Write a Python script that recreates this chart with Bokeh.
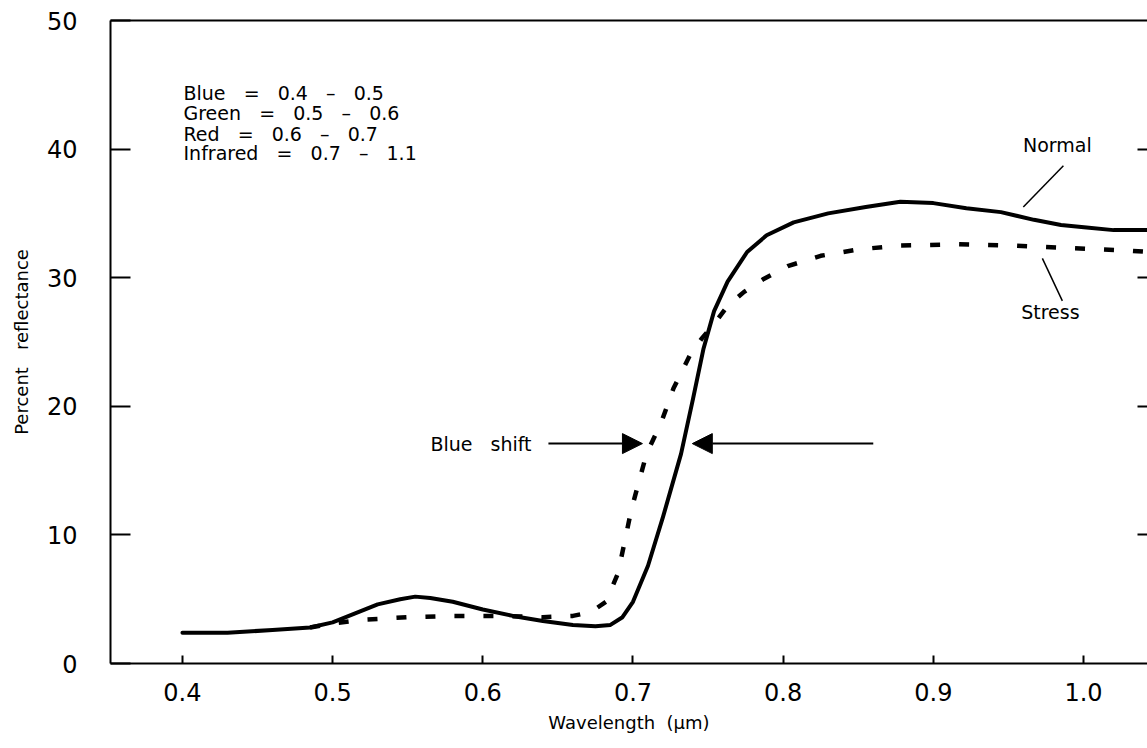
from bokeh.plotting import figure
from bokeh.models import (Range1d, FixedTicker, LinearAxis, CustomJSTickFormatter,
                          Arrow, NormalHead, Label)
from bokeh.core.properties import value
from bokeh.embed import file_html
from bokeh.resources import INLINE

FONT = "DejaVu Sans"
S = "\u00a0"  # non-breaking space (SVG collapses plain runs of spaces)

# ---- data ----
normal_x = [0.400, 0.430, 0.460, 0.485, 0.500, 0.515, 0.530, 0.545, 0.555, 0.565,
            0.580, 0.600, 0.620, 0.640, 0.660, 0.675, 0.685, 0.693, 0.700, 0.710,
            0.720, 0.732, 0.740, 0.747, 0.754, 0.763, 0.776, 0.789, 0.807, 0.830,
            0.855, 0.878, 0.900, 0.922, 0.945, 0.967, 0.985, 1.002, 1.020, 1.043]
normal_y = [2.4, 2.4, 2.6, 2.8, 3.2, 3.9, 4.6, 5.0, 5.2, 5.1,
            4.8, 4.2, 3.7, 3.3, 3.0, 2.9, 3.0, 3.6, 4.8, 7.6,
            11.4, 16.3, 20.6, 24.5, 27.4, 29.7, 32.0, 33.3, 34.3, 35.0,
            35.5, 35.9, 35.8, 35.4, 35.1, 34.5, 34.1, 33.9, 33.7, 33.7]

stress_x = [0.485, 0.500, 0.520, 0.550, 0.580, 0.610, 0.640, 0.660, 0.672, 0.682,
            0.690, 0.699, 0.709, 0.719, 0.727, 0.738, 0.746, 0.754, 0.763, 0.774,
            0.787, 0.803, 0.825, 0.850, 0.878, 0.916, 0.953, 0.993, 1.031, 1.043]
stress_y = [2.8, 3.1, 3.4, 3.6, 3.7, 3.7, 3.6, 3.7, 4.0, 4.8,
            7.0, 12.0, 16.3, 18.8, 21.4, 24.0, 25.3, 26.4, 27.8, 28.9,
            29.9, 30.9, 31.7, 32.2, 32.5, 32.6, 32.5, 32.3, 32.1, 32.0]

x_ticks = [0.4, 0.5, 0.6, 0.7, 0.8, 0.9, 1.0]
y_ticks = [0, 10, 20, 30, 40, 50]
right_ticks = [10, 20, 30, 40]

legend_lines = ["Blue", "Green", "Red", "Infrared"]
legend_ranges = ["0.4 – 0.5", "0.5 – 0.6", "0.6 – 0.7", "0.7 – 1.1"]
legend_x = 0.4007
legend_y = [44.4, 42.8, 41.2, 39.7]

# annotation anchors (data units)
normal_label = (0.9826, 40.3)
normal_leader = ([0.9866, 0.9599], [38.7, 35.5])
stress_label = (0.9779, 27.3)
stress_leader = ([0.9726, 0.9859], [31.5, 28.2])
shift_label = (0.5651, 17.1)
shift_arrow_left = (0.6437, 0.7063)
shift_arrow_right = (0.8600, 0.7395)


def spaced(s, n=3):
    return s.replace(" ", S * n)


legend_text = [name + S * 3 + "=" + S * 3 + spaced(rng) for name, rng in zip(legend_lines, legend_ranges)]

p = figure(width=1147, height=748,
           x_range=Range1d(0.3521, 1.0426), y_range=Range1d(0, 50),
           output_backend="svg", toolbar_location=None,
           min_border_left=110, min_border_top=20,
           min_border_right=0, min_border_bottom=85)
p.grid.visible = False
p.outline_line_color = None
p.background_fill_color = "white"
p.border_fill_color = "white"

# x axis
xa = p.xaxis[0]
xa.ticker = FixedTicker(ticks=x_ticks)
xa.formatter = CustomJSTickFormatter(code="return tick.toFixed(1);")
xa.major_tick_in = 8
xa.major_tick_out = 0
xa.minor_tick_line_color = None
xa.axis_line_width = 2
xa.major_tick_line_width = 2
xa.major_label_standoff = 19
xa.major_label_text_font = FONT
xa.major_label_text_font_size = "24px"
xa.major_label_text_color = "black"
xa.axis_label = "Wavelength" + S * 2 + "(μm)"
xa.axis_label_text_font = FONT
xa.axis_label_text_font_size = "18px"
xa.axis_label_text_font_style = "normal"
xa.axis_label_text_color = "black"
xa.axis_label_standoff = 8

# y axis
ya = p.yaxis[0]
ya.ticker = FixedTicker(ticks=y_ticks)
ya.major_tick_in = 20
ya.major_tick_out = 0
ya.minor_tick_line_color = None
ya.axis_line_width = 2
ya.major_tick_line_width = 2
ya.major_label_standoff = 33
ya.major_label_text_font = FONT
ya.major_label_text_font_size = "24px"
ya.major_label_text_color = "black"
ya.axis_label = "Percent" + S * 3 + "reflectance"
ya.axis_label_text_font = FONT
ya.axis_label_text_font_size = "18px"
ya.axis_label_text_font_style = "normal"
ya.axis_label_text_color = "black"
ya.axis_label_standoff = 12

# right ticks (axis line lies outside the picture)
ra = LinearAxis(ticker=FixedTicker(ticks=right_ticks),
                formatter=CustomJSTickFormatter(code="return '';"))
ra.major_tick_in = 10
ra.major_tick_out = 0
ra.minor_tick_line_color = None
ra.axis_line_color = None
ra.major_tick_line_width = 2
ra.major_label_standoff = 0
p.add_layout(ra, "right")

# top border
ta = LinearAxis(ticker=FixedTicker(ticks=[]),
                formatter=CustomJSTickFormatter(code="return '';"))
ta.axis_line_width = 2
ta.major_tick_line_color = None
ta.minor_tick_line_color = None
ta.major_label_standoff = 0
p.add_layout(ta, "above")

# curves
p.line(normal_x, normal_y, line_color="black", line_width=4, line_join="round", line_cap="round")
p.line(stress_x, stress_y, line_color="black", line_width=4.5, line_dash="10 19")

# legend text
p.text(x=[legend_x] * len(legend_text), y=legend_y, text=legend_text,
       text_font=value(FONT), text_font_size="19px", text_color="black",
       text_align="left", text_baseline="middle")

# Normal / Stress labels and leaders
p.add_layout(Label(x=normal_label[0], y=normal_label[1], text="Normal",
                   text_font=FONT, text_font_size="19px", text_align="center",
                   text_baseline="middle", text_color="black"))
p.line(normal_leader[0], normal_leader[1], line_color="black", line_width=1.5)
p.add_layout(Label(x=stress_label[0], y=stress_label[1], text="Stress",
                   text_font=FONT, text_font_size="19px", text_align="center",
                   text_baseline="middle", text_color="black"))
p.line(stress_leader[0], stress_leader[1], line_color="black", line_width=1.5)

# Blue shift
p.add_layout(Label(x=shift_label[0], y=shift_label[1], text="Blue" + S * 3 + "shift",
                   text_font=FONT, text_font_size="19px", text_align="left",
                   text_baseline="middle", text_color="black"))
for (xs, xe) in (shift_arrow_left, shift_arrow_right):
    p.add_layout(Arrow(end=NormalHead(size=20, fill_color="black", line_color="black"),
                       x_start=xs, y_start=shift_label[1], x_end=xe, y_end=shift_label[1],
                       line_color="black", line_width=2))

open("out.html", "w").write(file_html(p, INLINE))
